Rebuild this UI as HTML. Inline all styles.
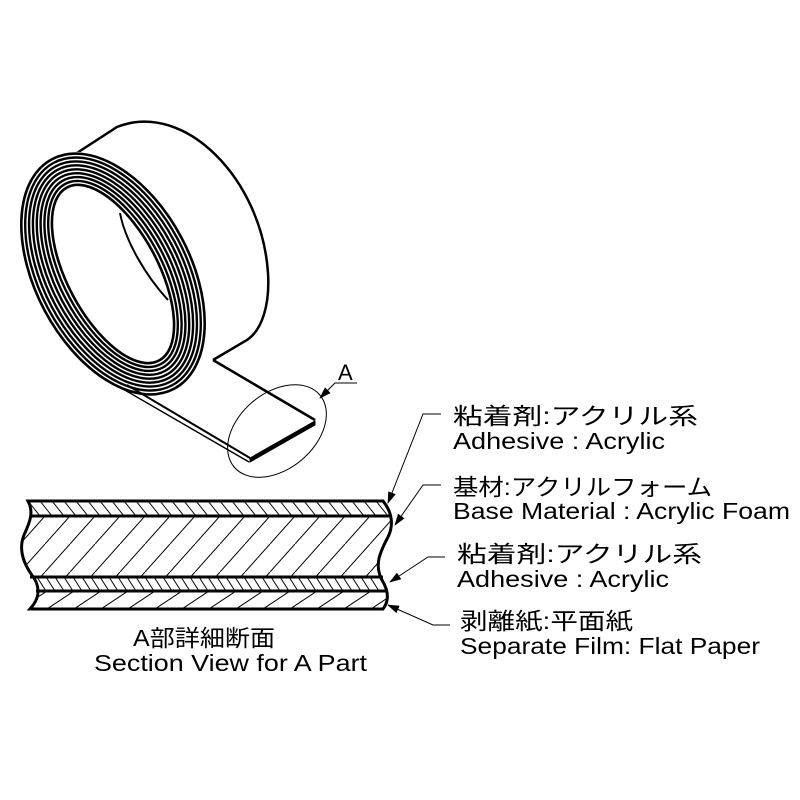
<!DOCTYPE html>
<html><head><meta charset="utf-8"><style>
html,body{margin:0;padding:0;background:#fff}
svg{display:block}
text{font-family:"Liberation Sans","Noto Sans CJK JP",sans-serif;fill:#000}
</style></head><body>
<svg width="800" height="800" viewBox="0 0 800 800" xmlns="http://www.w3.org/2000/svg">
<defs>
<pattern id="p1" patternUnits="userSpaceOnUse" width="12" height="15" x="28" y="501"><path d="M-12,-15 L24,30" stroke="#000" stroke-width="1"/></pattern>
<pattern id="p2" patternUnits="userSpaceOnUse" width="25" height="28" x="20" y="516"><path d="M-25,56 L50,-28" stroke="#000" stroke-width="1"/></pattern>
<pattern id="p3" patternUnits="userSpaceOnUse" width="9" height="14" x="28" y="577"><path d="M-9,-14 L18,28" stroke="#000" stroke-width="1"/></pattern>
<pattern id="p4" patternUnits="userSpaceOnUse" width="27" height="18" x="20" y="591"><path d="M-27,36 L54,-18" stroke="#000" stroke-width="1"/></pattern>
<marker id="ar" markerWidth="12" markerHeight="8" refX="11" refY="4" orient="auto" markerUnits="userSpaceOnUse"><path d="M0,0 L12,4 L0,8 Z" fill="#000"/></marker>
<clipPath id="sec"><path d="M28,501 L383,501 C392,512 394,525 388,537 C380,552 374,565 382,580 C388,590 390,600 383,609 L30,609 C40,598 40,588 34,578 C24,565 18,550 24,535 C30,522 34,512 28,501 Z"/></clipPath>
</defs>

<path d="M63,162 L117,127 C185,100 262,180 268,273 C270,305 262,330 247,340 L213,360" fill="none" stroke="#000" stroke-width="2.5"/>
<g transform="translate(113,274) rotate(-28)" fill="none">
<ellipse rx="79" ry="132" fill="#fff" stroke="none"/>
<ellipse rx="77.5" ry="130" stroke="#000" stroke-width="2.6"/>
<ellipse rx="73.5" ry="126" stroke="#000" stroke-width="2.4"/>
<ellipse rx="69.5" ry="122" stroke="#000" stroke-width="2.4"/>
<ellipse rx="65.5" ry="118" stroke="#000" stroke-width="2.4"/>
<ellipse rx="61.5" ry="114" stroke="#000" stroke-width="2.4"/>
<ellipse rx="57.5" ry="110" stroke="#000" stroke-width="2.4"/>
<ellipse rx="53.5" ry="106" stroke="#000" stroke-width="2.4"/>
<ellipse rx="49.5" ry="102" stroke="#000" stroke-width="2.4"/>
<ellipse rx="45.5" ry="98" stroke="#000" stroke-width="2.6"/>
</g>
<path d="M120,213 C125,240 145,275 168,300" fill="none" stroke="#000" stroke-width="2"/>
<path d="M127,385 L250,458" stroke="#000" stroke-width="2"/>
<path d="M123,389 L249,462" stroke="#000" stroke-width="1.5"/>
<path d="M213,360 L315,420" stroke="#000" stroke-width="2.5"/>
<path d="M250,458 L315,421 L315,425 L250,462 Z" fill="#000" stroke="#000" stroke-width="1"/>
<ellipse cx="277" cy="431" rx="56" ry="38" transform="rotate(-40 277 431)" fill="none" stroke="#000" stroke-width="1"/>
<path d="M357,383 L335,383 L320,398" fill="none" stroke="#000" stroke-width="1" marker-end="url(#ar)"/>
<text x="338" y="380" font-size="22">A</text>

<g clip-path="url(#sec)">
<rect x="0" y="501" width="400" height="15" fill="url(#p1)"/>
<rect x="0" y="516" width="400" height="61" fill="url(#p2)"/>
<rect x="0" y="577" width="400" height="14" fill="url(#p3)"/>
<rect x="0" y="591" width="400" height="18" fill="url(#p4)"/>
</g>
<path d="M28,501 L383,501 C392,512 394,525 388,537 C380,552 374,565 382,580 C388,590 390,600 383,609 L30,609 C40,598 40,588 34,578 C24,565 18,550 24,535 C30,522 34,512 28,501 Z" fill="none" stroke="#000" stroke-width="3"/>
<g stroke="#000" stroke-width="3"><line x1="32" y1="516" x2="390" y2="516"/><line x1="30" y1="577" x2="383" y2="577"/><line x1="36" y1="591" x2="388" y2="591"/></g>

<g fill="none" stroke="#000" stroke-width="1">
<path d="M441,414 L423,414 L388,503" marker-end="url(#ar)"/>
<path d="M441,485 L423,485 L395,525" marker-end="url(#ar)"/>
<path d="M445,557 L428,557 L390,582" marker-end="url(#ar)"/>
<path d="M450,625 L433,625 L388,605" marker-end="url(#ar)"/>
</g>
<g font-size="23" lengthAdjust="spacingAndGlyphs">
<text x="453" y="424" textLength="245" lengthAdjust="spacingAndGlyphs">粘着剤:アクリル系</text>
<text x="453" y="449" textLength="212" lengthAdjust="spacingAndGlyphs">Adhesive : Acrylic</text>
<text x="453" y="495" textLength="259" lengthAdjust="spacingAndGlyphs">基材:アクリルフォーム</text>
<text x="453" y="519" textLength="337" lengthAdjust="spacingAndGlyphs">Base Material : Acrylic Foam</text>
<text x="457" y="562" textLength="245" lengthAdjust="spacingAndGlyphs">粘着剤:アクリル系</text>
<text x="457" y="587" textLength="212" lengthAdjust="spacingAndGlyphs">Adhesive : Acrylic</text>
<text x="460" y="629" textLength="173" lengthAdjust="spacingAndGlyphs">剥離紙:平面紙</text>
<text x="460" y="654" textLength="300" lengthAdjust="spacingAndGlyphs">Separate Film: Flat Paper</text>
<text x="133" y="646" textLength="142" lengthAdjust="spacingAndGlyphs">A部詳細断面</text>
<text x="94" y="671" textLength="273" lengthAdjust="spacingAndGlyphs">Section View for A Part</text>
</g>
</svg>
</body></html>
